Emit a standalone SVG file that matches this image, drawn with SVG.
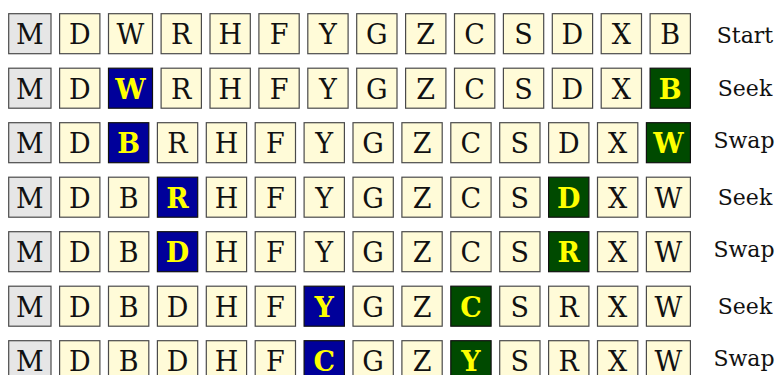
<svg xmlns="http://www.w3.org/2000/svg" width="777" height="375" viewBox="0 0 777 375">
<style>
rect{height:40px;stroke:#4a4a4a;stroke-width:1.2}
.n{fill:#FFFBD8}
.m{fill:#E6E6E6}
.bl{fill:#00009A;stroke:#111}
.gr{fill:#004A00;stroke:#111}
text{font-family:"DejaVu Serif","Liberation Serif",serif;font-size:27px;text-anchor:middle;fill:#111}
.y{fill:#FFFF00;font-weight:bold}
.lab{font-size:22px;fill:#111}
</style>
<g id="row1" transform="translate(0,13.7)">
<g id="r1c1" transform="translate(8.7,0)"><rect class="m" width="42.3"/><text x="21.15" y="30.5">M</text></g>
<g id="r1c2" transform="translate(59.6,0)"><rect class="n" width="40.3"/><text x="20.15" y="30.5">D</text></g>
<g id="r1c3" transform="translate(108.5,0)"><rect class="n" width="44"/><text x="22" y="30.5">W</text></g>
<g id="r1c4" transform="translate(161.1,0)"><rect class="n" width="40.3"/><text x="20.15" y="30.5">R</text></g>
<g id="r1c5" transform="translate(210,0)"><rect class="n" width="40.3"/><text x="20.15" y="30.5">H</text></g>
<g id="r1c6" transform="translate(258.9,0)"><rect class="n" width="40.3"/><text x="20.15" y="30.5">F</text></g>
<g id="r1c7" transform="translate(307.8,0)"><rect class="n" width="40.3"/><text x="20.15" y="30.5">Y</text></g>
<g id="r1c8" transform="translate(356.7,0)"><rect class="n" width="40.3"/><text x="20.15" y="30.5">G</text></g>
<g id="r1c9" transform="translate(405.6,0)"><rect class="n" width="40.3"/><text x="20.15" y="30.5">Z</text></g>
<g id="r1c10" transform="translate(454.5,0)"><rect class="n" width="40.3"/><text x="20.15" y="30.5">C</text></g>
<g id="r1c11" transform="translate(503.4,0)"><rect class="n" width="40.3"/><text x="20.15" y="30.5">S</text></g>
<g id="r1c12" transform="translate(552.3,0)"><rect class="n" width="40.3"/><text x="20.15" y="30.5">D</text></g>
<g id="r1c13" transform="translate(601.2,0)"><rect class="n" width="40.3"/><text x="20.15" y="30.5">X</text></g>
<g id="r1c14" transform="translate(650.1,0)"><rect class="n" width="40.3"/><text x="20.15" y="30.5">B</text></g>
</g>
<g id="row2" transform="translate(0,68.2)">
<g id="r2c1" transform="translate(8.7,0)"><rect class="m" width="42.3"/><text x="21.15" y="30.5">M</text></g>
<g id="r2c2" transform="translate(59.6,0)"><rect class="n" width="40.3"/><text x="20.15" y="30.5">D</text></g>
<g id="r2c3" transform="translate(108.5,0)"><rect class="bl" width="44"/><text class="y" x="22" y="30.5">W</text></g>
<g id="r2c4" transform="translate(161.1,0)"><rect class="n" width="40.3"/><text x="20.15" y="30.5">R</text></g>
<g id="r2c5" transform="translate(210,0)"><rect class="n" width="40.3"/><text x="20.15" y="30.5">H</text></g>
<g id="r2c6" transform="translate(258.9,0)"><rect class="n" width="40.3"/><text x="20.15" y="30.5">F</text></g>
<g id="r2c7" transform="translate(307.8,0)"><rect class="n" width="40.3"/><text x="20.15" y="30.5">Y</text></g>
<g id="r2c8" transform="translate(356.7,0)"><rect class="n" width="40.3"/><text x="20.15" y="30.5">G</text></g>
<g id="r2c9" transform="translate(405.6,0)"><rect class="n" width="40.3"/><text x="20.15" y="30.5">Z</text></g>
<g id="r2c10" transform="translate(454.5,0)"><rect class="n" width="40.3"/><text x="20.15" y="30.5">C</text></g>
<g id="r2c11" transform="translate(503.4,0)"><rect class="n" width="40.3"/><text x="20.15" y="30.5">S</text></g>
<g id="r2c12" transform="translate(552.3,0)"><rect class="n" width="40.3"/><text x="20.15" y="30.5">D</text></g>
<g id="r2c13" transform="translate(601.2,0)"><rect class="n" width="40.3"/><text x="20.15" y="30.5">X</text></g>
<g id="r2c14" transform="translate(650.1,0)"><rect class="gr" width="40.3"/><text class="y" x="20.15" y="30.5">B</text></g>
</g>
<g id="row3" transform="translate(0,122.7)">
<g id="r3c1" transform="translate(8.7,0)"><rect class="m" width="42.3"/><text x="21.15" y="30.5">M</text></g>
<g id="r3c2" transform="translate(59.6,0)"><rect class="n" width="40.3"/><text x="20.15" y="30.5">D</text></g>
<g id="r3c3" transform="translate(108.5,0)"><rect class="bl" width="40.3"/><text class="y" x="20.15" y="30.5">B</text></g>
<g id="r3c4" transform="translate(157.4,0)"><rect class="n" width="40.3"/><text x="20.15" y="30.5">R</text></g>
<g id="r3c5" transform="translate(206.3,0)"><rect class="n" width="40.3"/><text x="20.15" y="30.5">H</text></g>
<g id="r3c6" transform="translate(255.2,0)"><rect class="n" width="40.3"/><text x="20.15" y="30.5">F</text></g>
<g id="r3c7" transform="translate(304.1,0)"><rect class="n" width="40.3"/><text x="20.15" y="30.5">Y</text></g>
<g id="r3c8" transform="translate(353,0)"><rect class="n" width="40.3"/><text x="20.15" y="30.5">G</text></g>
<g id="r3c9" transform="translate(401.9,0)"><rect class="n" width="40.3"/><text x="20.15" y="30.5">Z</text></g>
<g id="r3c10" transform="translate(450.8,0)"><rect class="n" width="40.3"/><text x="20.15" y="30.5">C</text></g>
<g id="r3c11" transform="translate(499.7,0)"><rect class="n" width="40.3"/><text x="20.15" y="30.5">S</text></g>
<g id="r3c12" transform="translate(548.6,0)"><rect class="n" width="40.3"/><text x="20.15" y="30.5">D</text></g>
<g id="r3c13" transform="translate(597.5,0)"><rect class="n" width="40.3"/><text x="20.15" y="30.5">X</text></g>
<g id="r3c14" transform="translate(646.4,0)"><rect class="gr" width="44"/><text class="y" x="22" y="30.5">W</text></g>
</g>
<g id="row4" transform="translate(0,177.2)">
<g id="r4c1" transform="translate(8.7,0)"><rect class="m" width="42.3"/><text x="21.15" y="30.5">M</text></g>
<g id="r4c2" transform="translate(59.6,0)"><rect class="n" width="40.3"/><text x="20.15" y="30.5">D</text></g>
<g id="r4c3" transform="translate(108.5,0)"><rect class="n" width="40.3"/><text x="20.15" y="30.5">B</text></g>
<g id="r4c4" transform="translate(157.4,0)"><rect class="bl" width="40.3"/><text class="y" x="20.15" y="30.5">R</text></g>
<g id="r4c5" transform="translate(206.3,0)"><rect class="n" width="40.3"/><text x="20.15" y="30.5">H</text></g>
<g id="r4c6" transform="translate(255.2,0)"><rect class="n" width="40.3"/><text x="20.15" y="30.5">F</text></g>
<g id="r4c7" transform="translate(304.1,0)"><rect class="n" width="40.3"/><text x="20.15" y="30.5">Y</text></g>
<g id="r4c8" transform="translate(353,0)"><rect class="n" width="40.3"/><text x="20.15" y="30.5">G</text></g>
<g id="r4c9" transform="translate(401.9,0)"><rect class="n" width="40.3"/><text x="20.15" y="30.5">Z</text></g>
<g id="r4c10" transform="translate(450.8,0)"><rect class="n" width="40.3"/><text x="20.15" y="30.5">C</text></g>
<g id="r4c11" transform="translate(499.7,0)"><rect class="n" width="40.3"/><text x="20.15" y="30.5">S</text></g>
<g id="r4c12" transform="translate(548.6,0)"><rect class="gr" width="40.3"/><text class="y" x="20.15" y="30.5">D</text></g>
<g id="r4c13" transform="translate(597.5,0)"><rect class="n" width="40.3"/><text x="20.15" y="30.5">X</text></g>
<g id="r4c14" transform="translate(646.4,0)"><rect class="n" width="44"/><text x="22" y="30.5">W</text></g>
</g>
<g id="row5" transform="translate(0,231.7)">
<g id="r5c1" transform="translate(8.7,0)"><rect class="m" width="42.3"/><text x="21.15" y="30.5">M</text></g>
<g id="r5c2" transform="translate(59.6,0)"><rect class="n" width="40.3"/><text x="20.15" y="30.5">D</text></g>
<g id="r5c3" transform="translate(108.5,0)"><rect class="n" width="40.3"/><text x="20.15" y="30.5">B</text></g>
<g id="r5c4" transform="translate(157.4,0)"><rect class="bl" width="40.3"/><text class="y" x="20.15" y="30.5">D</text></g>
<g id="r5c5" transform="translate(206.3,0)"><rect class="n" width="40.3"/><text x="20.15" y="30.5">H</text></g>
<g id="r5c6" transform="translate(255.2,0)"><rect class="n" width="40.3"/><text x="20.15" y="30.5">F</text></g>
<g id="r5c7" transform="translate(304.1,0)"><rect class="n" width="40.3"/><text x="20.15" y="30.5">Y</text></g>
<g id="r5c8" transform="translate(353,0)"><rect class="n" width="40.3"/><text x="20.15" y="30.5">G</text></g>
<g id="r5c9" transform="translate(401.9,0)"><rect class="n" width="40.3"/><text x="20.15" y="30.5">Z</text></g>
<g id="r5c10" transform="translate(450.8,0)"><rect class="n" width="40.3"/><text x="20.15" y="30.5">C</text></g>
<g id="r5c11" transform="translate(499.7,0)"><rect class="n" width="40.3"/><text x="20.15" y="30.5">S</text></g>
<g id="r5c12" transform="translate(548.6,0)"><rect class="gr" width="40.3"/><text class="y" x="20.15" y="30.5">R</text></g>
<g id="r5c13" transform="translate(597.5,0)"><rect class="n" width="40.3"/><text x="20.15" y="30.5">X</text></g>
<g id="r5c14" transform="translate(646.4,0)"><rect class="n" width="44"/><text x="22" y="30.5">W</text></g>
</g>
<g id="row6" transform="translate(0,286.2)">
<g id="r6c1" transform="translate(8.7,0)"><rect class="m" width="42.3"/><text x="21.15" y="30.5">M</text></g>
<g id="r6c2" transform="translate(59.6,0)"><rect class="n" width="40.3"/><text x="20.15" y="30.5">D</text></g>
<g id="r6c3" transform="translate(108.5,0)"><rect class="n" width="40.3"/><text x="20.15" y="30.5">B</text></g>
<g id="r6c4" transform="translate(157.4,0)"><rect class="n" width="40.3"/><text x="20.15" y="30.5">D</text></g>
<g id="r6c5" transform="translate(206.3,0)"><rect class="n" width="40.3"/><text x="20.15" y="30.5">H</text></g>
<g id="r6c6" transform="translate(255.2,0)"><rect class="n" width="40.3"/><text x="20.15" y="30.5">F</text></g>
<g id="r6c7" transform="translate(304.1,0)"><rect class="bl" width="40.3"/><text class="y" x="20.15" y="30.5">Y</text></g>
<g id="r6c8" transform="translate(353,0)"><rect class="n" width="40.3"/><text x="20.15" y="30.5">G</text></g>
<g id="r6c9" transform="translate(401.9,0)"><rect class="n" width="40.3"/><text x="20.15" y="30.5">Z</text></g>
<g id="r6c10" transform="translate(450.8,0)"><rect class="gr" width="40.3"/><text class="y" x="20.15" y="30.5">C</text></g>
<g id="r6c11" transform="translate(499.7,0)"><rect class="n" width="40.3"/><text x="20.15" y="30.5">S</text></g>
<g id="r6c12" transform="translate(548.6,0)"><rect class="n" width="40.3"/><text x="20.15" y="30.5">R</text></g>
<g id="r6c13" transform="translate(597.5,0)"><rect class="n" width="40.3"/><text x="20.15" y="30.5">X</text></g>
<g id="r6c14" transform="translate(646.4,0)"><rect class="n" width="44"/><text x="22" y="30.5">W</text></g>
</g>
<g id="row7" transform="translate(0,340.7)">
<g id="r7c1" transform="translate(8.7,0)"><rect class="m" width="42.3"/><text x="21.15" y="30.5">M</text></g>
<g id="r7c2" transform="translate(59.6,0)"><rect class="n" width="40.3"/><text x="20.15" y="30.5">D</text></g>
<g id="r7c3" transform="translate(108.5,0)"><rect class="n" width="40.3"/><text x="20.15" y="30.5">B</text></g>
<g id="r7c4" transform="translate(157.4,0)"><rect class="n" width="40.3"/><text x="20.15" y="30.5">D</text></g>
<g id="r7c5" transform="translate(206.3,0)"><rect class="n" width="40.3"/><text x="20.15" y="30.5">H</text></g>
<g id="r7c6" transform="translate(255.2,0)"><rect class="n" width="40.3"/><text x="20.15" y="30.5">F</text></g>
<g id="r7c7" transform="translate(304.1,0)"><rect class="bl" width="40.3"/><text class="y" x="20.15" y="30.5">C</text></g>
<g id="r7c8" transform="translate(353,0)"><rect class="n" width="40.3"/><text x="20.15" y="30.5">G</text></g>
<g id="r7c9" transform="translate(401.9,0)"><rect class="n" width="40.3"/><text x="20.15" y="30.5">Z</text></g>
<g id="r7c10" transform="translate(450.8,0)"><rect class="gr" width="40.3"/><text class="y" x="20.15" y="30.5">Y</text></g>
<g id="r7c11" transform="translate(499.7,0)"><rect class="n" width="40.3"/><text x="20.15" y="30.5">S</text></g>
<g id="r7c12" transform="translate(548.6,0)"><rect class="n" width="40.3"/><text x="20.15" y="30.5">R</text></g>
<g id="r7c13" transform="translate(597.5,0)"><rect class="n" width="40.3"/><text x="20.15" y="30.5">X</text></g>
<g id="r7c14" transform="translate(646.4,0)"><rect class="n" width="44"/><text x="22" y="30.5">W</text></g>
</g>
<g id="labels">
<text class="lab" x="745" y="43.3">Start</text>
<text class="lab" x="745" y="96">Seek</text>
<text class="lab" x="744" y="147.7">Swap</text>
<text class="lab" x="745" y="205.2">Seek</text>
<text class="lab" x="744" y="256.7">Swap</text>
<text class="lab" x="745" y="314.2">Seek</text>
<text class="lab" x="744" y="365.7">Swap</text>
</g>
</svg>
